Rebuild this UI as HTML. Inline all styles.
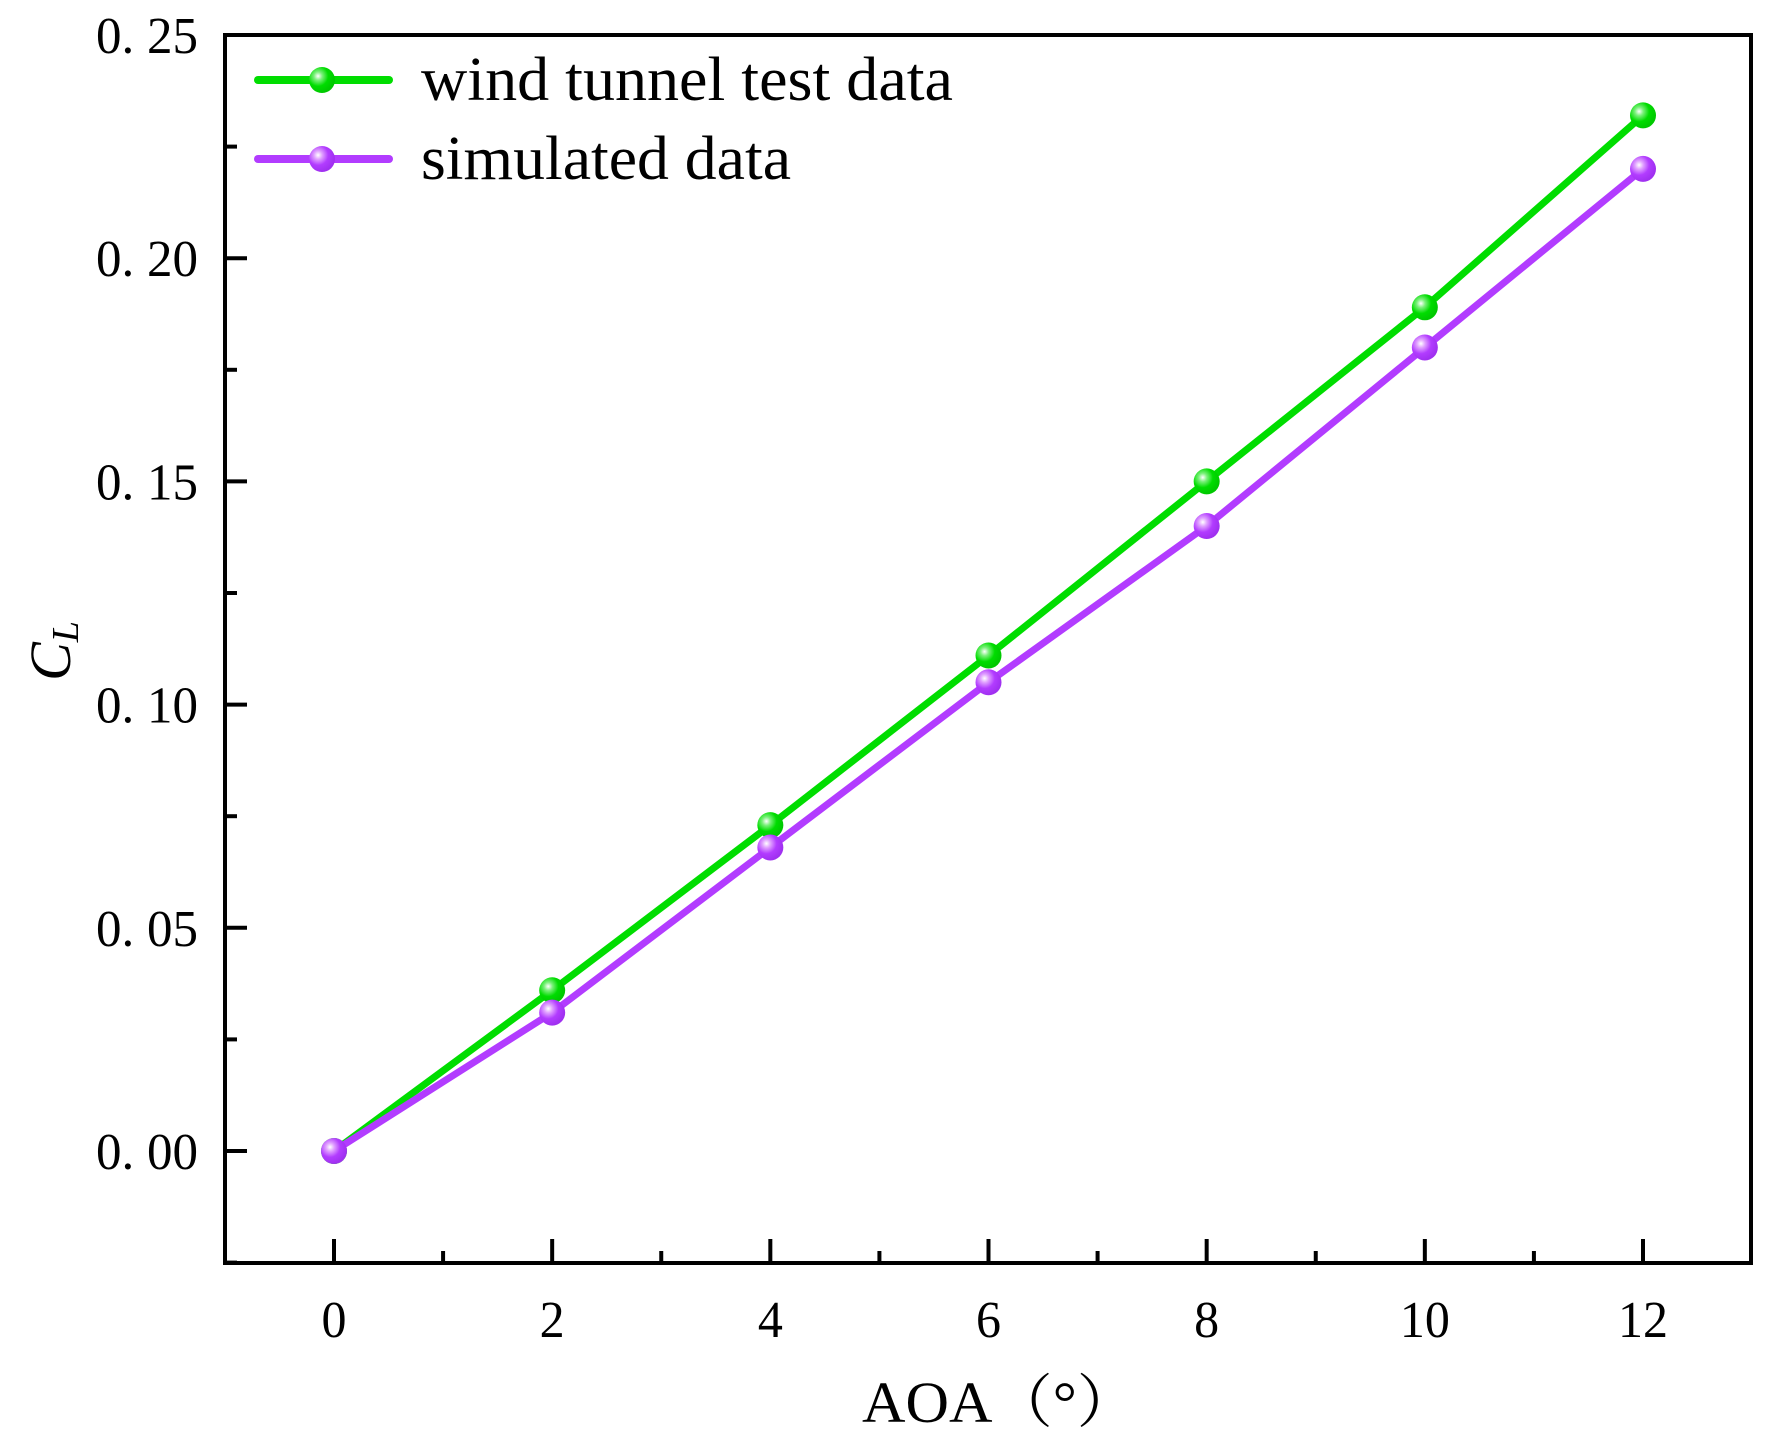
<!DOCTYPE html>
<html><head><meta charset="utf-8"><style>
html,body{margin:0;padding:0;background:#fff;}
svg{display:block;}
text{font-family:"Liberation Serif","Noto Serif CJK SC",serif;fill:#000;}
</style></head><body>
<svg id="chart" width="1767" height="1443" viewBox="0 0 1767 1443" xmlns="http://www.w3.org/2000/svg">
<defs>
<radialGradient id="gG" cx="0.35" cy="0.35" r="0.65"><stop offset="0" stop-color="#ffffff"/><stop offset="0.25" stop-color="#7af07a"/><stop offset="0.6" stop-color="#00dd00"/><stop offset="1" stop-color="#00c800"/></radialGradient>
<radialGradient id="gP" cx="0.35" cy="0.35" r="0.65"><stop offset="0" stop-color="#ffffff"/><stop offset="0.25" stop-color="#e0a0ff"/><stop offset="0.6" stop-color="#b23cff"/><stop offset="1" stop-color="#a030f0"/></radialGradient>
</defs>
<g id="plot"></g>
</svg>
<script>
const aoa = [0, 2, 4, 6, 8, 10, 12];
const windTunnel = [0, 0.036, 0.073, 0.111, 0.150, 0.189, 0.232];
const simulated = [0, 0.031, 0.068, 0.105, 0.140, 0.180, 0.220];
const xTicks = [0, 2, 4, 6, 8, 10, 12];
const yTicks = [0, 0.05, 0.10, 0.15, 0.20, 0.25];
const yTickLabels = ["0. 00", "0. 05", "0. 10", "0. 15", "0. 20", "0. 25"];

const L = 225, R = 1751, T = 35, B = 1263;
const x = v => 334 + v * (1643 - 334) / 12;
const y = v => 1151 - v * (1151 - 35) / 0.25;
const NS = "http://www.w3.org/2000/svg";
const g = document.getElementById('plot');
function mk(tag, attrs, parent) {
  const e = document.createElementNS(NS, tag);
  for (const k in attrs) e.setAttribute(k, attrs[k]);
  (parent || g).appendChild(e);
  return e;
}
const frame = mk('rect', {x: L, y: T, width: R - L, height: B - T, fill: 'none', stroke: '#000', 'stroke-width': 4});


for (let v = 0; v <= 12; v++) {
  const major = v % 2 === 0;
  const t = mk('line', {x1: x(v), x2: x(v), y1: B, y2: B - (major ? 24 : 12), stroke: '#000', 'stroke-width': 4});
  
  
}
xTicks.forEach(v => {
  const s = String(v);
  const t = mk('text', {x: x(v), y: 1337, 'font-size': 52, 'text-anchor': 'middle', textLength: s.length * 25, lengthAdjust: 'spacingAndGlyphs'});
  t.textContent = s;
  
  
});
for (let i = -1; i <= 10; i++) {
  const v = i * 0.025;
  const major = i % 2 === 0;
  const t = mk('line', {x1: L, x2: L + (major ? 22 : 12), y1: y(v), y2: y(v), stroke: '#000', 'stroke-width': 4});
  
  
}
yTicks.forEach((v, i) => {
  const t = mk('text', {x: 96, y: y(v) + 18, 'font-size': 52, textLength: 102, lengthAdjust: 'spacingAndGlyphs'});
  t.textContent = yTickLabels[i];
  
  
});
function series(vals, color, grad, name) {
  const pts = aoa.map((a, i) => x(a) + ',' + y(vals[i])).join(' ');
  const pl = mk('polyline', {points: pts, fill: 'none', stroke: color, 'stroke-width': 7, 'stroke-linejoin': 'round'});
  
  
  aoa.forEach((a, i) => {
    const c = mk('circle', {cx: x(a), cy: y(vals[i]), r: 13, fill: grad});
    
    
  });
}
series(windTunnel, '#00dd00', 'url(#gG)', 'wind-tunnel');
series(simulated, '#b23cff', 'url(#gP)', 'simulated');
function legend(yy, color, grad, label, name, len) {
  const ln = mk('line', {x1: 258, x2: 389, y1: yy, y2: yy, stroke: color, 'stroke-width': 8, 'stroke-linecap': 'round'});
  
  
  const c = mk('circle', {cx: 322, cy: yy, r: 13, fill: grad});
  
  
  const t = mk('text', {x: 421, y: yy + 20, 'font-size': 62, textLength: len, lengthAdjust: 'spacingAndGlyphs'});
  t.textContent = label;
  
  
}
legend(80, '#00dd00', 'url(#gG)', 'wind tunnel test data', 'wind-tunnel', 532);
legend(159, '#b23cff', 'url(#gP)', 'simulated data', 'simulated', 370);
const xt = mk('text', {x: 862, y: 1422, 'font-size': 58, textLength: 275, lengthAdjust: 'spacingAndGlyphs'});
xt.textContent = 'AOA（°）';


const yt = mk('text', {x: 0, y: 0, 'font-size': 58, 'font-style': 'italic', transform: 'translate(70,651) rotate(-90)', 'text-anchor': 'middle'});
yt.innerHTML = 'C<tspan font-size="38" dy="8">L</tspan>';


</script>
</body></html>
